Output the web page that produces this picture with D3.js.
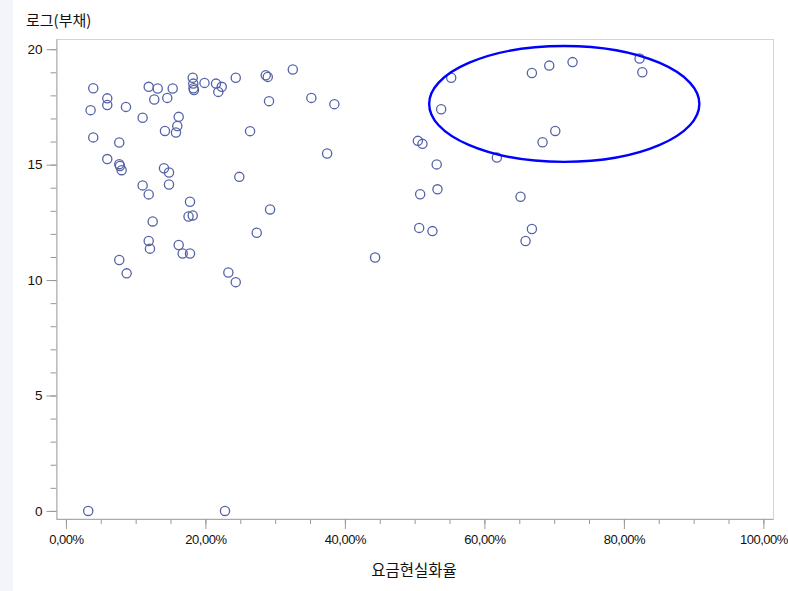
<!DOCTYPE html>
<html><head><meta charset="utf-8">
<script src="https://cdn.jsdelivr.net/npm/d3@7"></script>
<style>
html,body{margin:0;padding:0;background:#fff;}
svg{display:block;}
</style></head>
<body>
<svg id="chart" width="788" height="591"></svg>
<script>
// data: x = 요금현실화율 (%), y = 로그(부채)
const xValues = [3.2,22.81,3.92,3.54,3.92,5.93,5.93,8.61,7.65,5.93,7.65,7.75,7.99,11.0,11.87,12.67,13.16,14.53,15.31,14.2,15.78,15.97,16.17,18.18,18.26,18.29,18.36,19.87,21.52,22.34,21.85,24.35,28.65,28.94,32.53,29.12,35.19,38.49,26.4,37.45,11.0,11.87,14.06,14.78,14.78,12.44,17.79,17.58,18.18,24.86,29.27,27.36,11.87,12.05,16.17,16.74,17.79,7.65,8.71,23.29,24.35,44.33,50.46,51.12,53.16,50.79,53.27,50.65,52.55,55.24,53.8,61.79,66.81,69.3,72.64,68.34,70.16,65.18,66.81,65.9,82.25,82.64];
const yValues = [0,0,18.31,17.36,16.18,17.87,17.58,17.5,15.96,15.24,15.02,14.94,14.76,17.03,18.37,17.82,18.3,17.89,18.3,16.46,16.39,16.67,17.07,18.76,18.51,18.31,18.23,18.54,18.51,18.37,18.15,18.76,18.87,18.8,19.12,17.75,17.89,17.62,16.45,15.48,14.1,13.71,14.84,14.66,14.14,12.54,13.39,12.75,12.8,14.47,13.06,12.05,11.69,11.36,11.52,11.15,11.15,10.87,10.29,10.33,9.91,10.98,16.03,15.9,15.01,13.72,13.93,12.26,12.12,18.76,17.4,15.31,18.97,19.29,19.44,15.97,16.46,13.61,12.21,11.69,19.6,19.0];
const xTicks = [0,20,40,60,80,100];
const xMinorTicks = d3.range(0,101,5);
const yTicks = [0,5,10,15,20];
const yMinorTicks = d3.range(0,21,1);
const yTitle = "로그(부채)";
const xTitle = "요금현실화율";
// highlighted region (data units): center x, center y, radius x, radius y
const ellipse = {cx:71.45, cy:17.63, rx:19.37, ry:2.51};

const svg = d3.select("#chart");
const pL = 56.5, pR = 773.5, pT = 39.5, pB = 519;
const x = d3.scaleLinear().domain([-1.35,101.45]).range([pL,pR]);
const y = d3.scaleLinear().domain([-0.35,20.42]).range([pB,pT]);

svg.append("rect").attr("x",0).attr("y",0).attr("width",13).attr("height",591).attr("fill","#f3f5fb");

// frame
svg.append("rect").attr("x",pL).attr("y",pT).attr("width",pR-pL).attr("height",pB-pT)
  .attr("fill","none").attr("stroke","#d4d4d4").attr("stroke-width",1);

const fmt = d => d3.format(".2f")(d).replace(".",",") + "%";

// x axis
const gx = svg.append("g").attr("transform",`translate(0,${pB})`);
gx.call(d3.axisBottom(x).tickValues(xMinorTicks).tickSize(5).tickFormat(""));
gx.select(".domain").remove();
const gx2 = svg.append("g").attr("transform",`translate(0,${pB})`);
gx2.call(d3.axisBottom(x).tickValues(xTicks).tickSize(10).tickPadding(6).tickFormat(fmt));
gx2.select(".domain").attr("stroke","#aaaaaa").attr("d",`M${pL},0.5H${pR}`);
[gx,gx2].forEach(g=>g.selectAll(".tick line").attr("stroke","#999999"));
gx2.selectAll(".tick text").attr("font-family","Liberation Sans, Arial, sans-serif").attr("font-size","13px").attr("fill","#111").attr("letter-spacing","-0.5px");

// y axis
const gy = svg.append("g").attr("transform",`translate(${pL},0)`);
gy.call(d3.axisLeft(y).tickValues(yMinorTicks).tickSize(6).tickFormat(""));
gy.select(".domain").remove();
const gy2 = svg.append("g").attr("transform",`translate(${pL},0)`);
gy2.call(d3.axisLeft(y).tickValues(yTicks).tickSize(10).tickPadding(4).tickFormat(d3.format("d")));
gy2.select(".domain").attr("stroke","#aaaaaa").attr("d",`M0.5,${pT}V${pB}`);
[gy,gy2].forEach(g=>g.selectAll(".tick line").attr("stroke","#999999"));
gy2.selectAll(".tick text").attr("font-family","Liberation Sans, Arial, sans-serif").attr("font-size","13.5px").attr("fill","#111");

// points
svg.append("g").selectAll("circle").data(xValues.map((v,i)=>[v,yValues[i]])).join("circle")
  .attr("cx",d=>x(d[0])).attr("cy",d=>y(d[1])).attr("r",4.6)
  .attr("fill","none").attr("stroke","#5563a6").attr("stroke-width",1.3);

// ellipse annotation
svg.append("ellipse")
  .attr("cx",x(ellipse.cx)).attr("cy",y(ellipse.cy))
  .attr("rx",x(ellipse.cx+ellipse.rx)-x(ellipse.cx))
  .attr("ry",y(ellipse.cy-ellipse.ry)-y(ellipse.cy))
  .attr("fill","none").attr("stroke","#0000ff").attr("stroke-width",2.4);

// titles
svg.append("text").attr("x",26).attr("y",26).text(yTitle)
  .attr("font-family","Noto Sans CJK KR, sans-serif").attr("font-size","15px").attr("fill","#111");
svg.append("text").attr("x",414).attr("y",576).attr("text-anchor","middle").text(xTitle)
  .attr("font-family","Noto Sans CJK KR, sans-serif").attr("font-size","15.5px").attr("fill","#111");
</script>
</body></html>
